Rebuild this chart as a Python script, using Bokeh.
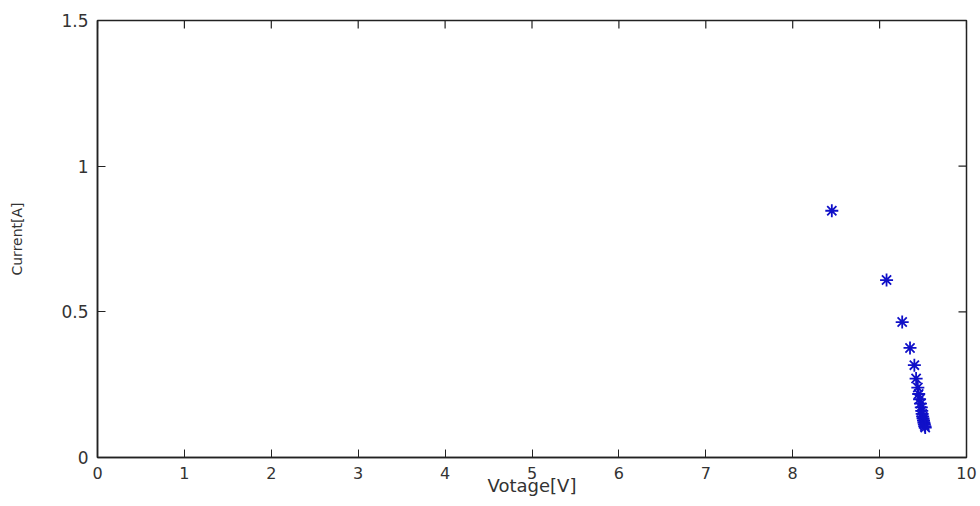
import math
from bokeh.plotting import figure
from bokeh.models import Range1d, FixedTicker
from bokeh.embed import file_html
from bokeh.resources import INLINE

voltage = [8.45, 9.08, 9.26, 9.35, 9.40, 9.42, 9.44, 9.45, 9.46, 9.47, 9.48,
           9.485, 9.49, 9.495, 9.50, 9.505, 9.51, 9.515, 9.52, 9.525]
current = [0.847, 0.609, 0.465, 0.376, 0.317, 0.271, 0.240, 0.218, 0.200, 0.185,
           0.172, 0.160, 0.150, 0.141, 0.134, 0.127, 0.120, 0.114, 0.108, 0.103]
x_ticks = [0, 1, 2, 3, 4, 5, 6, 7, 8, 9, 10]
y_ticks = [0, 0.5, 1, 1.5]
x_min, x_max = 0, 10
y_min, y_max = 0, 1.5

FONT = "DejaVu Sans"
TXT = "#333333"

p = figure(width=980, height=506, output_backend="svg", toolbar_location=None,
           x_range=Range1d(x_min, x_max), y_range=Range1d(y_min, y_max),
           min_border_left=97, min_border_right=14, min_border_top=20, min_border_bottom=49,
           x_axis_label="Votage[V]", y_axis_label="Current[A]")
p.grid.visible = False
p.outline_line_color = "#222222"
p.outline_line_width = 1.5
p.background_fill_color = "white"
p.border_fill_color = "white"

for ax in p.xaxis + p.yaxis:
    ax.major_tick_in = 8
    ax.major_tick_out = 0
    ax.minor_tick_in = 0
    ax.minor_tick_out = 0
    ax.axis_line_color = "#222222"
    ax.axis_line_width = 1.5
    ax.major_tick_line_color = "#222222"
    ax.major_label_text_font = FONT
    ax.major_label_text_font_size = "17px"
    ax.major_label_text_color = TXT
    ax.axis_label_text_font = FONT
    ax.axis_label_text_font_style = "normal"
    ax.axis_label_text_color = TXT

p.xaxis.ticker = FixedTicker(ticks=x_ticks)
p.yaxis.ticker = FixedTicker(ticks=y_ticks)
p.xaxis.major_label_text_font_size = "16px"
p.xaxis.major_label_standoff = 9
p.xaxis.axis_label_standoff = -7
p.xaxis.axis_label_text_font_size = "18px"
p.yaxis.major_label_standoff = 9
p.yaxis.axis_label_standoff = 33
p.yaxis.axis_label_text_font_size = "14px"

# inward ticks on the top and right edges of the box
p.ray(x=x_ticks, y=[y_max] * len(x_ticks), length=8, length_units="screen",
      angle=-math.pi / 2, line_color="#222222", line_width=1.2)
p.ray(x=[x_max] * len(y_ticks), y=y_ticks, length=8, length_units="screen",
      angle=math.pi, line_color="#222222", line_width=1.2)

p.scatter(voltage, current, marker="asterisk", size=13, line_color="#1010c8", line_width=1.8)

open("out.html", "w").write(file_html(p, INLINE))
